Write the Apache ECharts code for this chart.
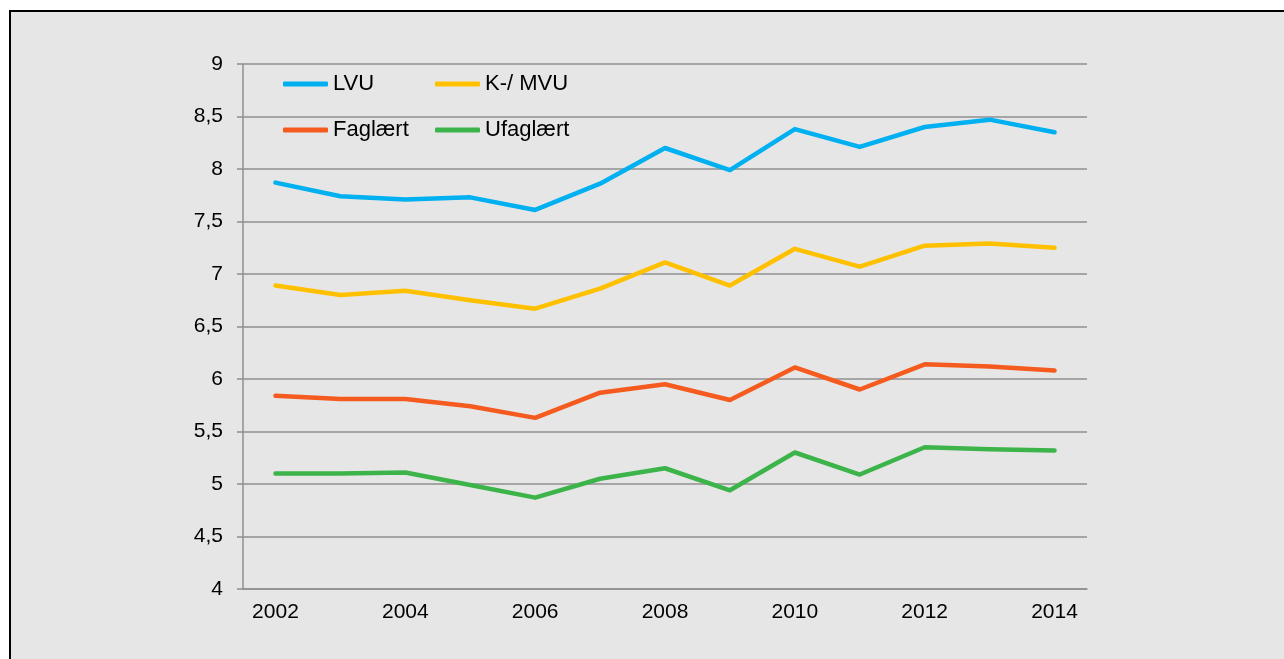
<!DOCTYPE html>
<html>
<head>
<meta charset="utf-8">
<script src="https://cdn.jsdelivr.net/npm/echarts@6/dist/echarts.min.js"></script>
<style>
  html, body { margin: 0; padding: 0; background: #ffffff; overflow: hidden; }
  .Frame {
    position: absolute;
    left: 9px;
    top: 10px;
    width: 1300px;
    height: 700px;
    border: 2px solid #000000;
    background: #e6e6e6;
  }
  #LineChart {
    position: absolute;
    left: 0;
    top: 0;
    width: 1284px;
    height: 659px;
  }
</style>
</head>
<body>
<div class="Frame"></div>
<div id="LineChart"></div>
<script>
const years = ['2002', '2003', '2004', '2005', '2006', '2007', '2008', '2009', '2010', '2011', '2012', '2013', '2014']

const lvu = [7.87, 7.74, 7.71, 7.73, 7.61, 7.86, 8.2, 7.99, 8.38, 8.21, 8.4, 8.47, 8.35]
const mvu = [6.89, 6.8, 6.84, 6.75, 6.67, 6.86, 7.11, 6.89, 7.24, 7.07, 7.27, 7.29, 7.25]
const faglaert = [5.84, 5.81, 5.81, 5.74, 5.63, 5.87, 5.95, 5.8, 6.11, 5.9, 6.14, 6.12, 6.08]
const ufaglaert = [5.1, 5.1, 5.11, 4.99, 4.87, 5.05, 5.15, 4.94, 5.3, 5.09, 5.35, 5.33, 5.32]

const seriesNames = ['LVU', 'K-/ MVU', 'Faglært', 'Ufaglært']
const seriesColors = ['#00b0f0', '#ffc000', '#f55b1f', '#3cb44a']

const fontFamily = 'Arial, "Liberation Sans", sans-serif'
const gridColor = '#8f8f8f'

// one legend per item so the two columns line up like the original
const legendPos = [
  { left: 283, top: 73 },
  { left: 435, top: 73 },
  { left: 283, top: 119 },
  { left: 435, top: 119 }
]

const chart = echarts.init(document.getElementById('LineChart'))
chart.setOption({
  backgroundColor: 'transparent',
  animation: false,
  grid: { left: 243, right: 197, top: 64, bottom: 70 },
  legend: seriesNames.map((name, i) => ({
    data: [name],
    left: legendPos[i].left,
    top: legendPos[i].top,
    padding: 0,
    icon: 'roundRect',
    itemWidth: 45,
    itemHeight: 5,
    textStyle: { color: '#000000', fontSize: 22, fontFamily: fontFamily }
  })),
  xAxis: {
    type: 'category',
    data: years,
    boundaryGap: true,
    axisLine: { lineStyle: { color: gridColor, width: 1.5 } },
    axisTick: { interval: 0, length: 6, lineStyle: { color: gridColor, width: 1.5 } },
    axisLabel: { interval: 1, margin: 13, color: '#000000', fontSize: 21, fontFamily: fontFamily },
    splitLine: { show: false }
  },
  yAxis: {
    type: 'value',
    min: 4,
    max: 9,
    interval: 0.5,
    axisLine: { show: true, lineStyle: { color: gridColor, width: 1.5 } },
    axisTick: { show: true, length: 6, lineStyle: { color: gridColor, width: 1.5 } },
    axisLabel: {
      margin: 20,
      color: '#000000',
      fontSize: 21,
      fontFamily: fontFamily,
      formatter: v => String(v).replace('.', ',')
    },
    splitLine: { lineStyle: { color: gridColor, width: 1.5 } }
  },
  series: [lvu, mvu, faglaert, ufaglaert].map((data, i) => ({
    name: seriesNames[i],
    type: 'line',
    data: data,
    symbol: 'none',
    color: seriesColors[i],
    lineStyle: { width: 4.5, color: seriesColors[i], cap: 'round', join: 'round' }
  }))
})
</script>
</body>
</html>
